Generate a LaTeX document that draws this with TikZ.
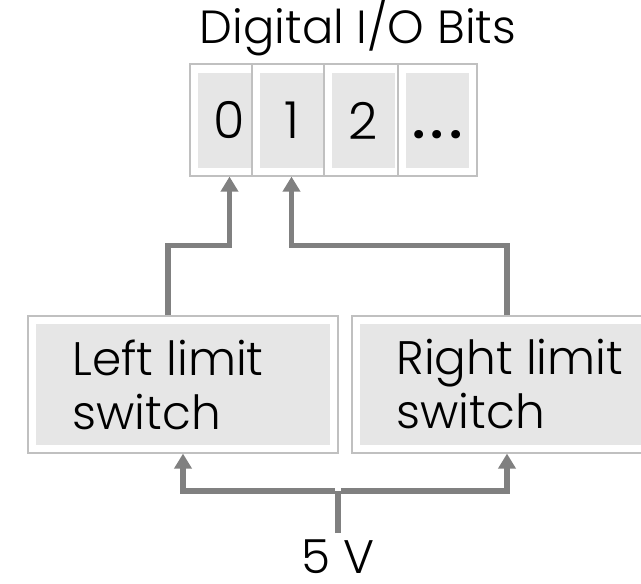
\documentclass[tikz,border=0pt]{standalone}
\usepackage{fontspec}
\setmainfont{Poppins}[UprightFont={* Light}]
\usetikzlibrary{arrows.meta}
\definecolor{boxline}{HTML}{C0C0C0}
\definecolor{boxfill}{HTML}{E6E6E6}
\definecolor{wiregray}{HTML}{808080}
\tikzset{
  cell/.style={draw=boxline, fill=white, line width=1.2pt, inner sep=0pt, minimum width=79pt, minimum height=112pt},
  cellfill/.style={fill=boxfill, inner sep=0pt, minimum width=63pt, minimum height=95pt, font=\fontsize{51}{54}\selectfont},
  switchbox/.style={draw=boxline, fill=white, line width=1.2pt, inner sep=0pt, minimum width=310pt, minimum height=137pt},
  switchfill/.style={fill=boxfill, inner sep=0pt, minimum width=294pt, minimum height=121pt},
  switchtext/.style={anchor=west, align=left, inner sep=0pt, font=\fontsize{47}{54}\selectfont},
  wire/.style={draw=wiregray, line width=5.5pt, -{Triangle[width=17pt, length=15pt]}}
}

\begin{document}
\begin{tikzpicture}[x=1pt, y=-1pt]
  \clip (0,0) rectangle (641,584);

  \node[font=\fontsize{46.5}{50}\selectfont] (title) at (358,28) {Digital I/O Bits};

  \foreach \b/\x/\t in {0/229.5/0, 1/291.5/1, 2/363.5/2, 3/437.5/{\textbf{.\kern5pt.\kern5pt.}}} {
    \node[cell] (c\b) at (\x,120) {};
    \node[cellfill] (f\b) at (\x,120.5) {\vphantom{0}\t};
  }

  \node[switchbox]  (lsw) at (183,384.5) {};
  \node[switchfill] (lsf) at (lsw) {};
  \node[switchtext] (lst) at ([xshift=45pt]lsw.west) {Left limit\\switch};

  \node[switchbox]  (rsw) at (507,384.5) {};
  \node[switchfill] (rsf) at (rsw) {};
  \node[switchtext] (rst) at ([xshift=45pt]rsw.west) {Right limit\\switch};

  \node[font=\fontsize{47}{50}\selectfont, anchor=base, inner sep=0pt] (volt) at (338,573) {5 V};
  \coordinate (split) at (338,491);

  \draw[draw=wiregray, line width=5.5pt] (volt.north) ++(0,-6) -- (split);
  \draw[wire] ([xshift=-2.75pt]split) -| (lsw.south);
  \draw[wire] ([xshift=2.75pt]split) -| (rsw.south);

  \draw[wire] ([xshift=-15pt]lsw.north) -- ++(0,-70) -| (c0.south);
  \draw[wire] (rsw.north) -- ++(0,-70) -| (c1.south);
\end{tikzpicture}
\end{document}
